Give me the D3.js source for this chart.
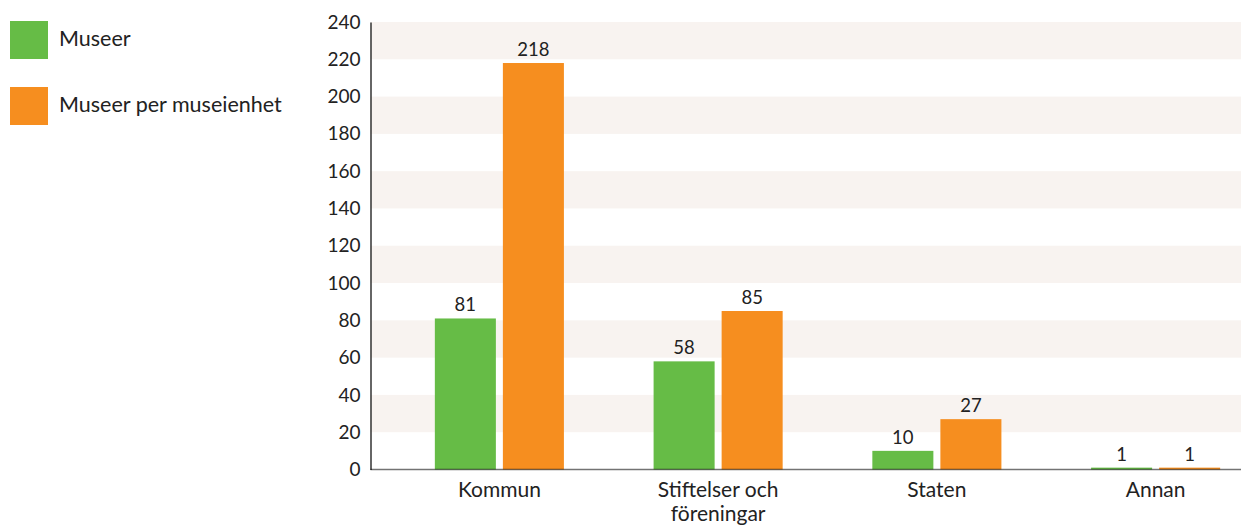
<!DOCTYPE html>
<html>
<head>
<meta charset="utf-8">
<script src="https://cdn.jsdelivr.net/npm/d3@7"></script>
<style>
  html, body { margin: 0; padding: 0; background: #fff; }
  svg { display: block; }
  text { font-family: Lato, "Open Sans", sans-serif; fill: #222; }
</style>
</head>
<body>
<svg id="chart" width="1241" height="527"></svg>
<script>
const categories = ["Kommun", "Stiftelser och\nföreningar", "Staten", "Annan"];
const seriesNames = ["Museer", "Museer per museienhet"];
const museer = [81, 58, 10, 1];
const museerPerEnhet = [218, 85, 27, 1];
const yTicks = [0, 20, 40, 60, 80, 100, 120, 140, 160, 180, 200, 220, 240];
const colors = ["#66bc46", "#f68e1f"];

const W = 1241, H = 527;
const plotLeft = 370.5, plotRight = 1241;
const svg = d3.select("#chart");

const y = d3.scaleLinear().domain([0, 240]).range([469.5, 22]);
const x0 = d3.scaleBand().domain(categories).range([390, 1265]).paddingInner(0.41).paddingOuter(0.205);
const x1 = d3.scaleBand().domain(seriesNames).range([0, x0.bandwidth()]).paddingInner(0.103);
const seriesValues = [museer, museerPerEnhet];

// stripes
const bands = d3.range(yTicks.length - 1).filter(i => i % 2 === 1);
svg.append("g").selectAll("rect").data(bands).join("rect")
  .attr("x", plotLeft)
  .attr("width", plotRight - plotLeft)
  .attr("y", i => y(yTicks[i + 1]))
  .attr("height", i => y(yTicks[i]) - y(yTicks[i + 1]))
  .attr("fill", "#f8f3f0");

// bars
const groups = svg.append("g").selectAll("g").data(categories).join("g")
  .attr("transform", d => `translate(${x0(d)},0)`);

groups.selectAll("rect").data((d, i) => seriesNames.map((s, j) => ({ s, j, v: seriesValues[j][i] })))
  .join("rect")
  .attr("x", d => x1(d.s))
  .attr("width", x1.bandwidth())
  .attr("y", d => y(d.v))
  .attr("height", d => y(0) - y(d.v))
  .attr("fill", d => colors[d.j]);

groups.selectAll("text.val").data((d, i) => seriesNames.map((s, j) => ({ s, j, v: seriesValues[j][i] })))
  .join("text")
  .attr("class", "val")
  .attr("x", d => x1(d.s) + x1.bandwidth() / 2)
  .attr("y", d => y(d.v) - 7)
  .attr("text-anchor", "middle")
  .attr("font-size", 18.5)
  .text(d => d.v);

// y axis
const yAxis = svg.append("g")
  .attr("transform", `translate(${plotLeft},0)`)
  .call(d3.axisLeft(y).tickValues(yTicks).tickSize(0).tickPadding(10));
yAxis.select(".domain").attr("stroke", "#333").attr("stroke-width", 1.5);
yAxis.selectAll("text").attr("font-size", 19).attr("fill", "#222").attr("font-family", "Lato, 'Open Sans', sans-serif");

// x axis line
svg.append("line")
  .attr("x1", plotLeft).attr("x2", plotRight)
  .attr("y1", y(0)).attr("y2", y(0))
  .attr("stroke", "rgba(0,0,0,0.55)").attr("stroke-width", 1.5);

// category labels
const catLabels = svg.append("g").selectAll("text").data(categories).join("text")
  .attr("x", d => x0(d) + x0.bandwidth() / 2)
  .attr("y", 497)
  .attr("text-anchor", "middle")
  .attr("font-size", 21);
catLabels.selectAll("tspan").data(d => d.split("\n")).join("tspan")
  .attr("x", function () { return d3.select(this.parentNode).attr("x"); })
  .attr("dy", (d, i) => i === 0 ? 0 : 24)
  .text(d => d);

// legend
const legend = svg.append("g").selectAll("g").data(seriesNames).join("g")
  .attr("transform", (d, i) => `translate(10,${21 + i * 66})`);
legend.append("rect").attr("width", 38).attr("height", 38).attr("fill", (d, i) => colors[i]);
legend.append("text").attr("x", 49).attr("y", 25).attr("font-size", 21.5).text(d => d);
</script>
</body>
</html>
